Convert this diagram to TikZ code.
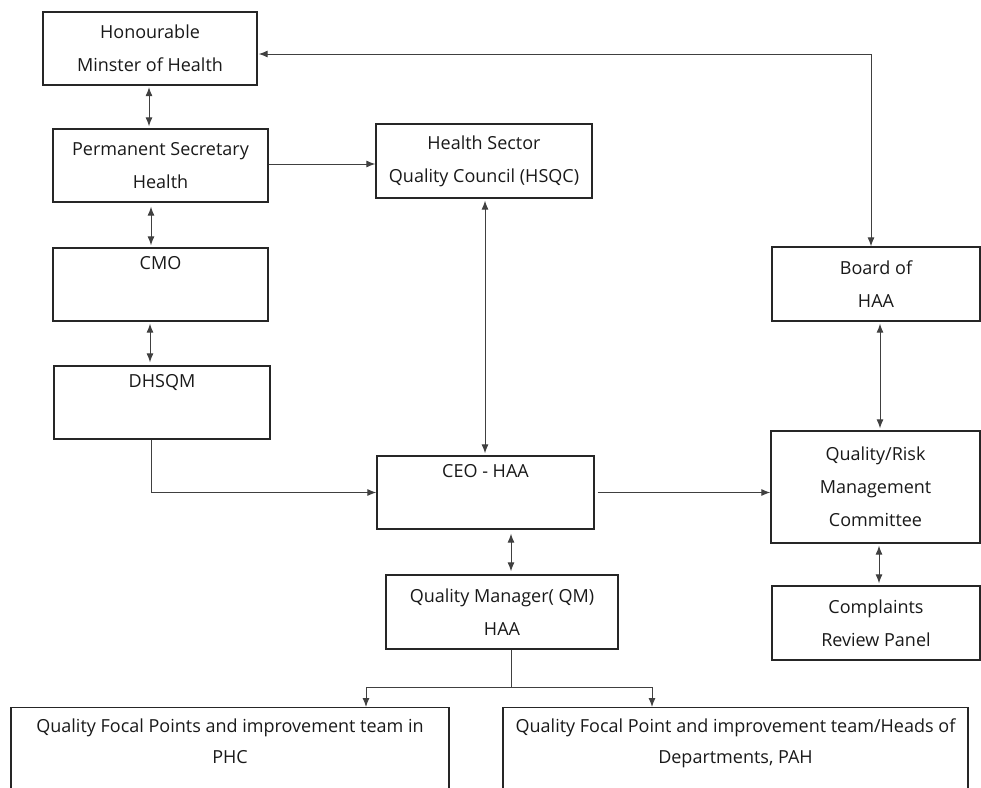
\documentclass[tikz,border=0pt]{standalone}
\usepackage{fontspec}
\setmainfont{Open Sans}
\usetikzlibrary{arrows.meta,calc}
\tikzset{
  box/.style={draw=black!85, line width=1.3pt, rectangle, inner sep=0pt, align=center,
    font=\fontsize{18}{33}\selectfont, text=black!90},
  conn/.style={draw=black!75, line width=1pt},
  tip/.style={-{Latex[length=9pt,width=7pt]}},
  dtip/.style={{Latex[length=9pt,width=7pt]}-{Latex[length=9pt,width=7pt]}}
}
\begin{document}
\begin{tikzpicture}[x=1pt,y=-1pt]
\useasboundingbox (0,0) rectangle (981,787);
\clip (0,0) rectangle (981,787);
\node[box, minimum width=214, minimum height=73] (min) at (150,48.5) {Honourable\\Minster of Health};
\node[box, minimum width=215, minimum height=73] (ps) at (160.5,165.5) {Permanent Secretary\\Health};
\node[box, minimum width=215, minimum height=73] (cmo) at (160.5,284.5) {CMO\\\strut};
\node[box, minimum width=216, minimum height=73] (dhsqm) at (162,402.5) {DHSQM\\\strut};
\node[box, minimum width=216, minimum height=74] (hsqc) at (484,161) {Health Sector\\Quality Council (HSQC)};
\node[box, minimum width=217, minimum height=73] (ceo) at (485.5,492.5) {CEO - HAA\\\strut};
\node[box, minimum width=208, minimum height=74] (board) at (876,284) {Board of\\HAA};
\node[box, minimum width=209, minimum height=112] (qrm) at (875.5,487) {Quality/Risk\\Management\\Committee};
\node[box, minimum width=208, minimum height=74] (crp) at (876,623) {Complaints\\Review Panel};
\node[box, minimum width=232, minimum height=74] (qm) at (502,612) {Quality Manager( QM)\\HAA};
\node[box, minimum width=438, minimum height=120, anchor=north] (phc) at (230,707) {};
\node[box, minimum width=465, minimum height=120, anchor=north] (pah) at (735.5,707) {};
\node[box, draw=none, anchor=north, font=\fontsize{18}{31}\selectfont] (phct) at ([yshift=-11]phc.north) {Quality Focal Points and improvement team in\\PHC};
\node[box, draw=none, anchor=north, font=\fontsize{18}{31}\selectfont] (paht) at ([yshift=-11]pah.north) {Quality Focal Point and improvement team/Heads of\\Departments, PAH};
% connectors
\draw[conn,dtip,shorten <=1.5pt,shorten >=2pt] ([xshift=-1]min.south) -- ([xshift=-1]min.south |- ps.north);
\draw[conn,dtip,shorten <=4pt,shorten >=2pt] ([xshift=-9.5]ps.south) -- ([xshift=-9.5]cmo.north);
\draw[conn,dtip,shorten <=2pt,shorten >=3pt] ([xshift=-10.5]cmo.south) -- ([xshift=-10.5]cmo.south |- dhsqm.north);
\draw[conn,tip] ([xshift=-11]dhsqm.south) |- (ceo.west);
\draw[conn,tip] ([yshift=1.5]ps.east) -- ([yshift=1.5]ps.east -| hsqc.west);
\draw[conn,dtip,shorten <=2pt,shorten >=2pt] ([xshift=1]hsqc.south) -- ([xshift=1]hsqc.south |- ceo.north);
\draw[conn,dtip,shorten <=1pt] ([yshift=-5.5]min.east) -| ([xshift=-5]board.north);
\draw[conn,dtip,shorten <=2pt,shorten >=2pt] ([xshift=4]board.south) -- ([xshift=4]board.south |- qrm.north);
\draw[conn,tip,shorten <=3pt] (ceo.east) -- (ceo.east -| qrm.west);
\draw[conn,dtip,shorten <=2pt,shorten >=2pt] ([xshift=3.5]qrm.south) -- ([xshift=3.5]qrm.south |- crp.north);
\draw[conn,dtip,shorten <=4pt,shorten >=3pt] ([xshift=25.5]ceo.south) -- ([xshift=9]qm.north);
\coordinate (split) at ($(qm.south)+(9,38)$);
\draw[conn] ([xshift=9]qm.south) -- (split);
\draw[conn,tip] (split) -| ([xshift=136]phc.north);
\draw[conn,tip] (split) -| ([xshift=-83.5]pah.north);
\end{tikzpicture}
\end{document}
